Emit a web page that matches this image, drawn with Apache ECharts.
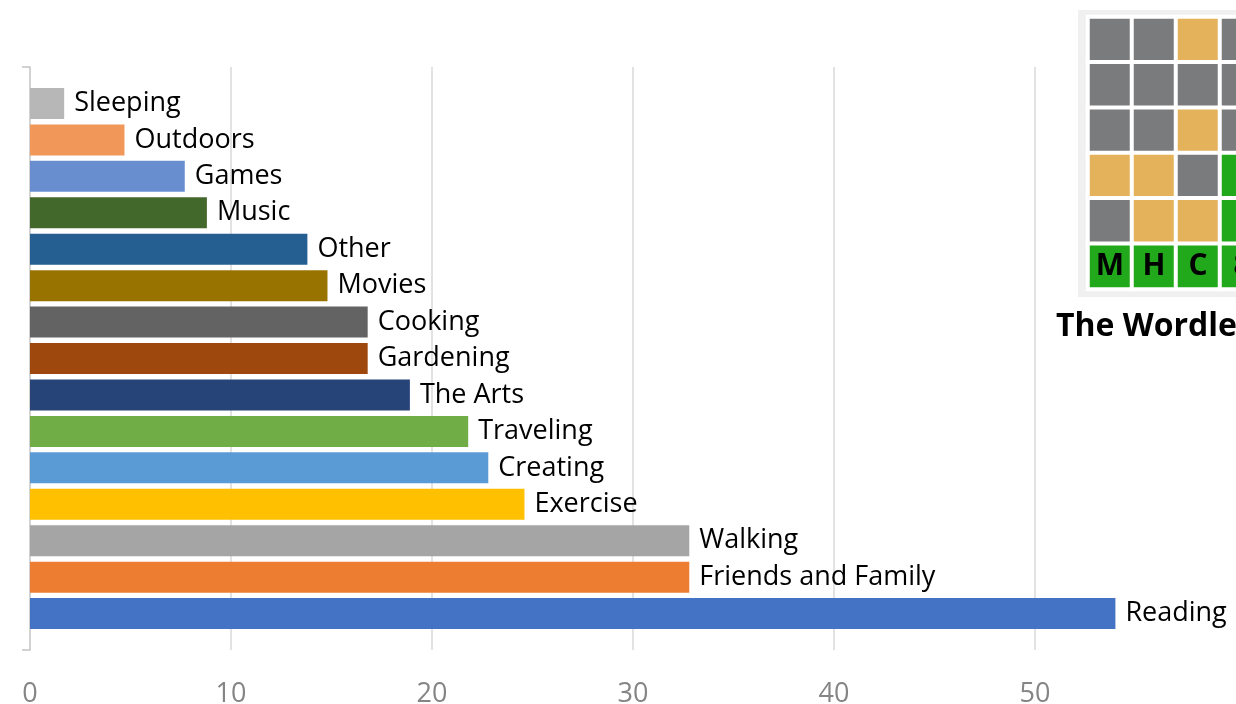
<!DOCTYPE html>
<html>
<head>
<meta charset="utf-8">
<script src="https://cdn.jsdelivr.net/npm/echarts@6/dist/echarts.min.js"></script>
<style>
  html, body { margin: 0; padding: 0; background: #fff; }
  #chart { width: 1236px; height: 704px; }
</style>
</head>
<body>
<div id="chart"></div>
<script>
// hobbies, top to bottom as drawn
var categories = ['Sleeping', 'Outdoors', 'Games', 'Music', 'Other', 'Movies', 'Cooking',
  'Gardening', 'The Arts', 'Traveling', 'Creating', 'Exercise', 'Walking',
  'Friends and Family', 'Reading'];
var values = [1.7, 4.7, 7.7, 8.8, 13.8, 14.8, 16.8, 16.8, 18.9, 21.8, 22.8, 24.6, 32.8, 32.8, 54];
var barColors = ['#b7b7b7', '#f1975a', '#698ed0', '#43682b', '#255e91', '#997300', '#636363',
  '#9e480e', '#264478', '#70ad47', '#5b9bd5', '#ffc000', '#a5a5a5', '#ed7d31', '#4472c4'];
var xTicks = [0, 10, 20, 30, 40, 50];

// wordle picture: 0 grey, 1 yellow, 2 green
var wordleRows = [
  [0, 0, 1, 0],
  [0, 0, 0, 0],
  [0, 0, 1, 0],
  [1, 1, 0, 2],
  [0, 1, 1, 2],
  [2, 2, 2, 2]
];
var wordleLetters = ['M', 'H', 'C', '8'];
var tileColors = ['#7a7b7d', '#e5b25c', '#21a81b'];
var wordleTitle = 'The Wordle';

var font = 'Open Sans';

// one empty slot each end so the axis runs a little past the bars
var yCats = [''].concat(categories).concat(['']);
var barData = ['-'];
for (var i = 0; i < values.length; i++) {
  barData.push({ value: values[i], itemStyle: { color: barColors[i] } });
}
barData.push('-');

var tiles = [];
for (var r = 0; r < wordleRows.length; r++) {
  for (var c = 0; c < wordleRows[r].length; c++) {
    tiles.push([c, r, wordleRows[r][c]]);
  }
}
var lastRow = wordleRows.length - 1;

var chart = echarts.init(document.getElementById('chart'));

chart.setOption({
  animation: false,
  backgroundColor: '#fff',
  textStyle: { fontFamily: font },
  title: {
    text: wordleTitle,
    left: 1056,
    top: 311,
    padding: 0,
    textStyle: { fontFamily: font, fontSize: 32, fontWeight: 'bold', color: '#000' }
  },
  graphic: [{
    type: 'rect',
    z: -10,
    silent: true,
    shape: { x: 1078, y: 10, width: 170, height: 287 },
    style: { fill: '#f0f0f0' }
  }],
  grid: [{
    left: 30, right: 0, top: 67, bottom: 54,
    outerBoundsMode: 'none'
  }, {
    left: 1088, top: 17, width: 176, height: 272,
    outerBoundsMode: 'none'
  }],
  xAxis: [{
    type: 'value',
    gridIndex: 0,
    min: 0,
    max: 60,
    interval: 10,
    axisLine: { show: false },
    axisTick: { show: false },
    splitLine: {
      show: true, showMinLine: false, showMaxLine: false,
      lineStyle: { color: '#d9d9d9', width: 1.5 }
    },
    axisLabel: {
      color: '#858585',
      fontSize: 27,
      fontFamily: font,
      margin: 31,
      showMaxLabel: false,
      formatter: function (v) { return xTicks.indexOf(v) >= 0 ? String(v) : ''; }
    }
  }, {
    type: 'category',
    gridIndex: 1,
    show: false,
    data: wordleLetters
  }],
  yAxis: [{
    type: 'category',
    gridIndex: 0,
    data: yCats,
    inverse: true,
    boundaryGap: false,
    offset: 5,
    axisLine: { show: true, lineStyle: { color: '#c4c4c4', width: 1.5 } },
    axisTick: {
      show: true,
      length: 8,
      interval: function (idx) { return idx === 0 || idx === yCats.length - 1; },
      lineStyle: { color: '#c4c4c4', width: 1.5 }
    },
    axisLabel: { show: false },
    splitLine: { show: false }
  }, {
    type: 'category',
    gridIndex: 1,
    show: false,
    inverse: true,
    data: wordleRows.map(function (row, k) { return 'r' + k; })
  }],
  visualMap: {
    type: 'piecewise',
    show: false,
    seriesIndex: 1,
    dimension: 2,
    pieces: tileColors.map(function (col, k) { return { value: k, color: col }; })
  },
  series: [{
    type: 'bar',
    xAxisIndex: 0,
    yAxisIndex: 0,
    barWidth: 31,
    data: barData,
    label: {
      show: true,
      position: 'right',
      distance: 10,
      formatter: '{b}',
      color: '#000',
      fontSize: 27,
      fontFamily: font
    }
  }, {
    type: 'heatmap',
    xAxisIndex: 1,
    yAxisIndex: 1,
    data: tiles,
    itemStyle: { borderColor: '#fff', borderWidth: 4 },
    label: {
      show: true,
      color: '#000',
      fontSize: 30,
      fontWeight: 'bold',
      fontFamily: font,
      formatter: function (p) {
        return p.value[1] === lastRow ? wordleLetters[p.value[0]] : '';
      }
    }
  }]
});
</script>
</body>
</html>
